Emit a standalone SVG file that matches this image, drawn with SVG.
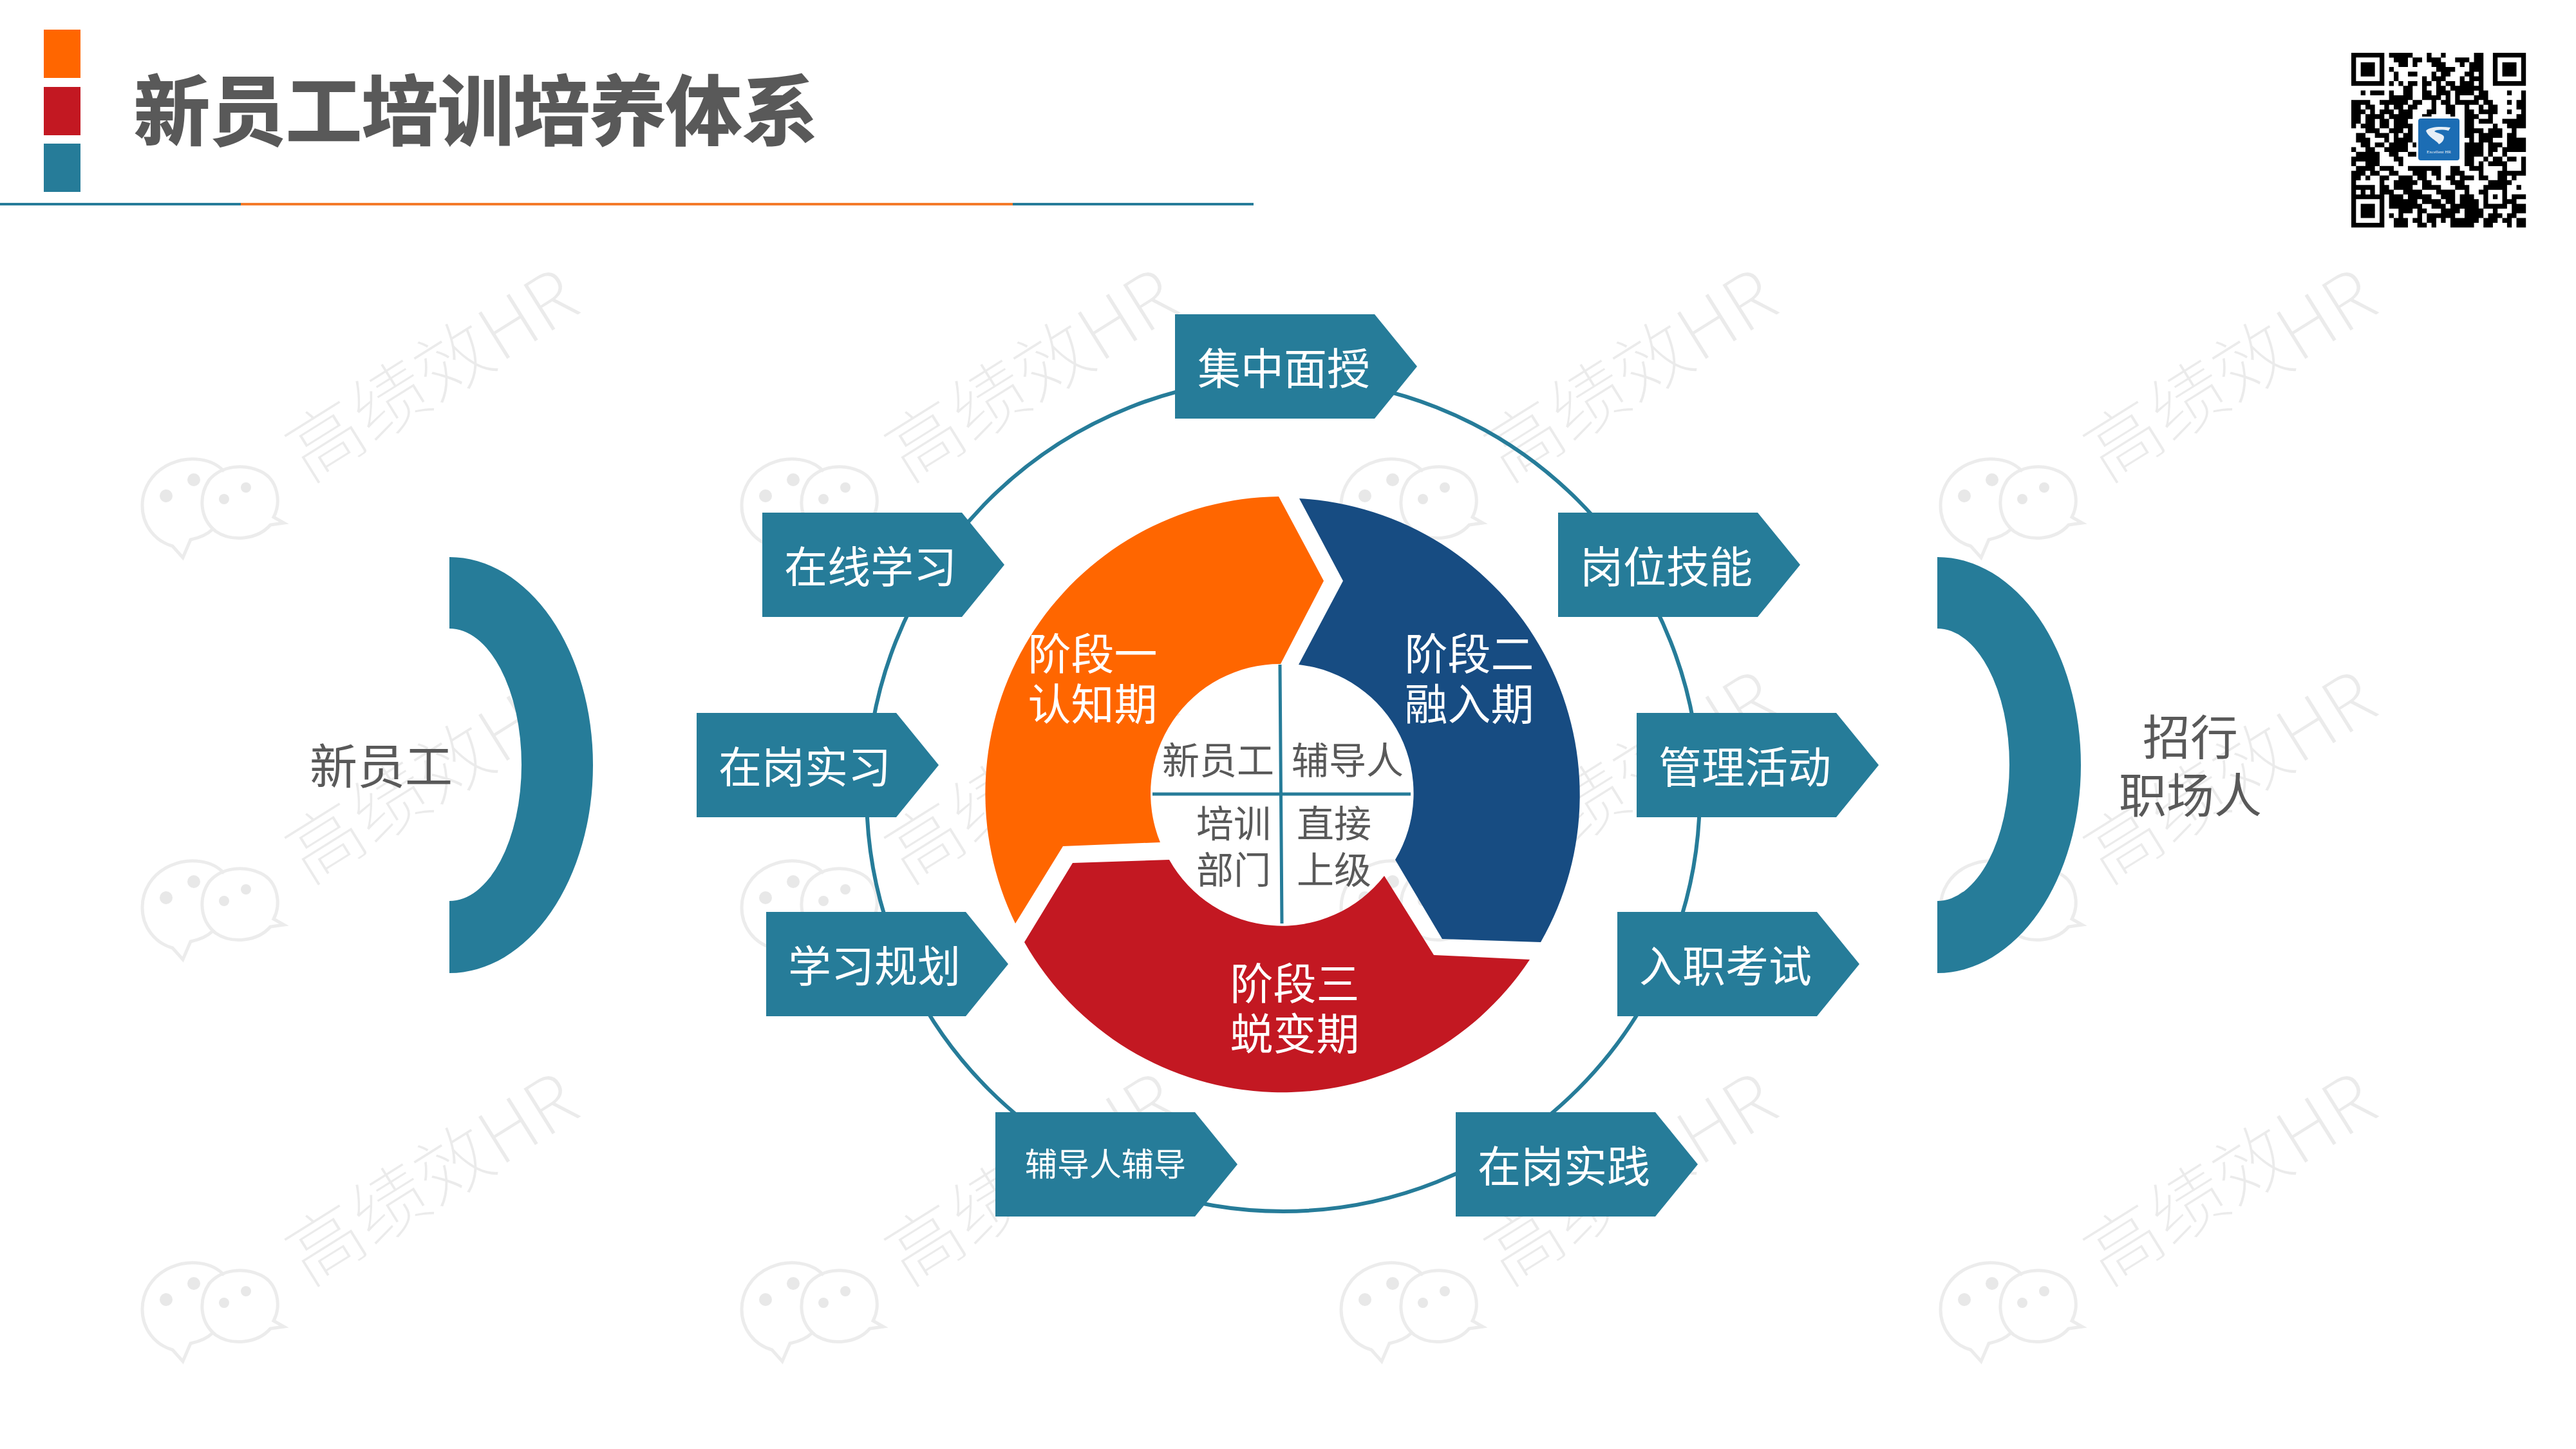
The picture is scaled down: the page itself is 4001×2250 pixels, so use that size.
<svg xmlns="http://www.w3.org/2000/svg" xmlns:xlink="http://www.w3.org/1999/xlink" width="4001" height="2250" viewBox="0 0 4001 2250">
<style>
text{font-family:"Noto Sans CJK SC","Noto Sans",sans-serif}
.teal{fill:#267c99}
.lab{font-size:67px;fill:#fff}
.lab2{font-size:67px;fill:#fff;text-anchor:middle}
.in{font-size:58px;fill:#595959}
.side{font-size:74px;fill:#595959;text-anchor:middle}
.wm{font-size:117px;fill:#ebebeb;font-weight:300;stroke:#fff;stroke-width:1.5}
.wc{fill:none;stroke:#ececec;stroke-width:5}
.wd{fill:#e8e8e8}
</style>
<defs>
<polygon id="arrow" points="0,0 310,0 376,81 310,162 0,162" class="teal"/>
<path id="finder" fill-rule="evenodd" d="M0 0h7v7h-7zM1 1v5h5v-5zM2 2h3v3h-3z"/>
<g id="watermark">
<text class="wm" transform="translate(479,751) rotate(-32)">高绩效HR</text>
<path class="wc" d="M348 732C330 712 295 707 265 720C235 733 221 760 221 785C221 815 240 840 268 848L284 866L296 838C310 835 322 830 330 822"/>
<path class="wc" d="M425 803C437 780 432 745 405 732C380 720 345 722 325 745C308 770 310 805 335 825C360 842 400 838 420 815L441 812Z"/>
<circle class="wd" cx="258" cy="770" r="10"/><circle class="wd" cx="301" cy="745" r="10"/><circle class="wd" cx="348" cy="775" r="8"/><circle class="wd" cx="382" cy="757" r="8"/>
</g>
</defs>
<rect width="4001" height="2250" fill="#fff"/>
<g id="watermarks">
<use href="#watermark"/><use href="#watermark" x="931"/><use href="#watermark" x="1862"/><use href="#watermark" x="2793"/>
<use href="#watermark" y="624"/><use href="#watermark" x="931" y="624"/><use href="#watermark" x="1862" y="624"/><use href="#watermark" x="2793" y="624"/>
<use href="#watermark" y="1248"/><use href="#watermark" x="931" y="1248"/><use href="#watermark" x="1862" y="1248"/><use href="#watermark" x="2793" y="1248"/>
</g>
<g id="header">
<rect x="68" y="46" width="57" height="75" fill="#ff6600"/>
<rect x="68" y="135" width="57" height="75" fill="#c31822"/>
<rect x="68" y="223" width="57" height="75" class="teal"/>
<rect x="0" y="315" width="1947" height="4" class="teal"/>
<rect x="374" y="315" width="1199" height="4" fill="#f47a2a"/>
<text x="208" y="216" font-size="118" font-weight="700" fill="#595959" stroke="#595959" stroke-width="2">新员工培训培养体系</text>
</g>
<g id="qrcode">
<g transform="translate(3652,82) scale(7.33)">
<use href="#finder"/><use href="#finder" x="30"/><use href="#finder" y="30"/>
<path fill="none" stroke="#000" stroke-width="1.02" d="M8 .5h5M16 .5h1M19 .5h1M26 .5h2
M9 1.5h3M13 1.5h2M16 1.5h3M22 1.5h3M26 1.5h2
M10 2.5h2M13 2.5h1M17 2.5h3M23 2.5h1M25 2.5h3
M8 3.5h1M18 3.5h4M25 3.5h3
M9 4.5h1M12 4.5h2M17 4.5h1M19 4.5h2M24 4.5h2M27 4.5h1
M9 5.5h1M15 5.5h1M17 5.5h3M23 5.5h1M25 5.5h3
M8 6.5h1M10 6.5h1M12 6.5h2M15 6.5h2M18 6.5h1M20 6.5h2M23 6.5h3M27 6.5h1
M11 7.5h2M15 7.5h1M18 7.5h2M21 7.5h7
M2 8.5h1M4 8.5h3M8 8.5h1M11 8.5h2M15 8.5h2M18 8.5h3M22 8.5h4M27 8.5h2M33 8.5h1M36 8.5h1
M8 9.5h5M15 9.5h4M20 9.5h1M22 9.5h1M26 9.5h3M36 9.5h1
M0 10.5h4M6 10.5h6M13 10.5h2M17 10.5h1M19 10.5h2M22 10.5h5M28 10.5h2M33 10.5h1M35 10.5h2
M0 11.5h2M3 11.5h2M7 11.5h1M9 11.5h2M12 11.5h2M17 11.5h1M20 11.5h2M24 11.5h1M27 11.5h1M29 11.5h2M35 11.5h2
M0 12.5h3M4 12.5h1M6 12.5h3M10 12.5h3M16 12.5h2M20 12.5h2M24 12.5h2M27 12.5h4M33 12.5h1M36 12.5h1
M0 13.5h2M3 13.5h4M8 13.5h5M15 13.5h2M21 13.5h1M24 13.5h3M29 13.5h1M35 13.5h2
M0 14.5h2M3 14.5h2M6 14.5h2M9 14.5h3M24 14.5h2M27 14.5h3M32 14.5h5
M0 15.5h1M2 15.5h3M6 15.5h2M9 15.5h4M24 15.5h2M30 15.5h1M33 15.5h4
M3 16.5h3M8 16.5h3M12 16.5h1M24 16.5h4M29 16.5h3M34 16.5h1
M1 17.5h2M5 17.5h3M9 17.5h1M11 17.5h2M24 17.5h2M27 17.5h5M33 17.5h2
M1 18.5h3M7 18.5h1M9 18.5h4M25 18.5h1M27 18.5h3M33 18.5h4
M2 19.5h2M5 19.5h2M8 19.5h4M13 19.5h1M24 19.5h4M29 19.5h3M33 19.5h4
M0 20.5h1M3 20.5h2M7 20.5h5M24 20.5h4M29 20.5h2M32 20.5h5
M1 21.5h5M8 21.5h2M12 21.5h2M24 21.5h4M29 21.5h1M32 21.5h1
M0 22.5h6M9 22.5h2M24 22.5h2M28 22.5h1M30 22.5h2M33 22.5h2M36 22.5h1
M0 23.5h1M3 23.5h3M10 23.5h1M24 23.5h2M27 23.5h1M29 23.5h4M36 23.5h1
M1 24.5h4M6 24.5h3M12 24.5h7M21 24.5h2M25 24.5h3M32 24.5h1M36 24.5h1
M0 25.5h3M4 25.5h2M8 25.5h2M13 25.5h3M17 25.5h2M21 25.5h3M27 25.5h1M31 25.5h6
M0 26.5h2M3 26.5h1M6 26.5h2M10 26.5h3M14 26.5h2M18 26.5h1M20 26.5h2M23 26.5h3M27 26.5h2M31 26.5h2M34 26.5h1
M0 27.5h1M6 27.5h1M9 27.5h5M15 27.5h2M21 27.5h3M29 27.5h5
M0 28.5h5M6 28.5h2M9 28.5h4M15 28.5h4M22 28.5h3M28 28.5h5M35 28.5h1
M0 29.5h1M2 29.5h1M4 29.5h1M6 29.5h3M11 29.5h4M18 29.5h4M24 29.5h1M27 29.5h2M32 29.5h1
M8 30.5h3M12 30.5h5M19 30.5h3M23 30.5h3M28 30.5h1M30 30.5h1M32 30.5h1M34 30.5h3
M8 31.5h6M15 31.5h4M20 31.5h2M23 31.5h4M28 31.5h1M32 31.5h1M33 31.5h2
M8 32.5h7M17 32.5h3M21 32.5h6M28 32.5h5M34 32.5h3
M10 33.5h3M14 33.5h2M19 33.5h4M24 33.5h4M30 33.5h1M34 33.5h3
M8 34.5h1M10 34.5h1M14 34.5h1M16 34.5h6M24 34.5h4M29 34.5h3M33 34.5h2
M9 35.5h3M13 35.5h2M16 35.5h2M19 35.5h1M21 35.5h6M28 35.5h3M32 35.5h2M35 35.5h2
M9 36.5h3M14 36.5h2M17 36.5h1M21 36.5h5M28 36.5h2M33 36.5h1M35 36.5h2"/>
</g>
<rect x="3753" y="181" width="70" height="71" rx="6" fill="#fff"/>
<rect x="3756" y="184" width="64" height="65" rx="4" fill="#1c6db4"/>
<path d="M3768 203C3773 197 3790 196 3806 198L3803 203C3795 201 3784 201 3781 204C3785 207 3796 208 3796 213C3796 218 3792 222 3788 224C3786 219 3771 213 3768 203Z" fill="#e6eef6"/>
<text x="3788" y="238" font-size="7" fill="#e6eef6" text-anchor="middle" style="font-family:'Liberation Serif',serif">Excellent HR</text>
</g>
<g id="connectors">
<circle cx="1993" cy="1234" r="647" fill="none" stroke="#267c99" stroke-width="6"/>
</g>
<g id="crescent-left"><path class="teal" d="M698 865A223 323 0 0 1 698 1511V1399A112 211.500 0 0 0 698 976Z"/></g>
<g id="crescent-right"><path class="teal" d="M3009 865A223 323 0 0 1 3009 1511V1399A112 211.500 0 0 0 3009 976Z"/></g>
<g id="node-new"><text class="side" x="592" y="1217">新员工</text></g>
<g id="node-career"><text class="side" x="3402" y="1172">招行</text><text class="side" x="3402" y="1262">职场人</text></g>
<g id="stage-1"><path fill="#ff6600" d="M1986 771L2056 902L1989 1031A201 201 0 0 0 1802 1308L1651 1314L1577 1434A461 461 0 0 1 1986 771Z"/>
<text class="lab2" x="1697" y="1040">阶段一</text><text class="lab2" x="1697" y="1118">认知期</text></g>
<g id="stage-2"><path fill="#174c82" d="M2018 774L2086 902L2017 1032A201 201 0 0 1 2167 1335L2240 1458L2393 1463A461 461 0 0 0 2018 774Z"/>
<text class="lab2" x="2282" y="1040">阶段二</text><text class="lab2" x="2282" y="1118">融入期</text></g>
<g id="stage-3"><path fill="#c31822" d="M1591 1463L1666 1340L1816 1335A201 201 0 0 0 2150 1360L2227 1483L2376 1490A461 461 0 0 1 1591 1463Z"/>
<text class="lab2" x="2011" y="1552">阶段三</text><text class="lab2" x="2011" y="1630">蜕变期</text></g>
<g id="center">
<path d="M1988 1032L1991 1434M1790 1233H2191" stroke="#267c99" stroke-width="5" fill="none"/>
<text class="in" x="1805" y="1202">新员工</text>
<text class="in" x="2006" y="1202">辅导人</text>
<text class="in" x="1858" y="1300">培训</text>
<text class="in" x="1858" y="1372">部门</text>
<text class="in" x="2014" y="1300">直接</text>
<text class="in" x="2014" y="1372">上级</text>
</g>
<g id="n1"><use href="#arrow" x="1825" y="488"/><text class="lab" x="1860" y="597">集中面授</text></g>
<g id="n2"><use href="#arrow" x="1184" y="796"/><text class="lab" x="1218" y="905">在线学习</text></g>
<g id="n3"><use href="#arrow" x="2420" y="796"/><text class="lab" x="2454" y="905">岗位技能</text></g>
<g id="n4"><use href="#arrow" x="1082" y="1107"/><text class="lab" x="1116" y="1216">在岗实习</text></g>
<g id="n5"><use href="#arrow" x="2542" y="1107"/><text class="lab" x="2576" y="1216">管理活动</text></g>
<g id="n6"><use href="#arrow" x="1190" y="1416"/><text class="lab" x="1224" y="1525">学习规划</text></g>
<g id="n7"><use href="#arrow" x="2512" y="1416"/><text class="lab" x="2546" y="1525">入职考试</text></g>
<g id="n8"><use href="#arrow" x="1546" y="1727"/><text x="1592" y="1826" font-size="50" fill="#fff">辅导人辅导</text></g>
<g id="n9"><use href="#arrow" x="2261" y="1727"/><text class="lab" x="2295" y="1836">在岗实践</text></g>
</svg>
